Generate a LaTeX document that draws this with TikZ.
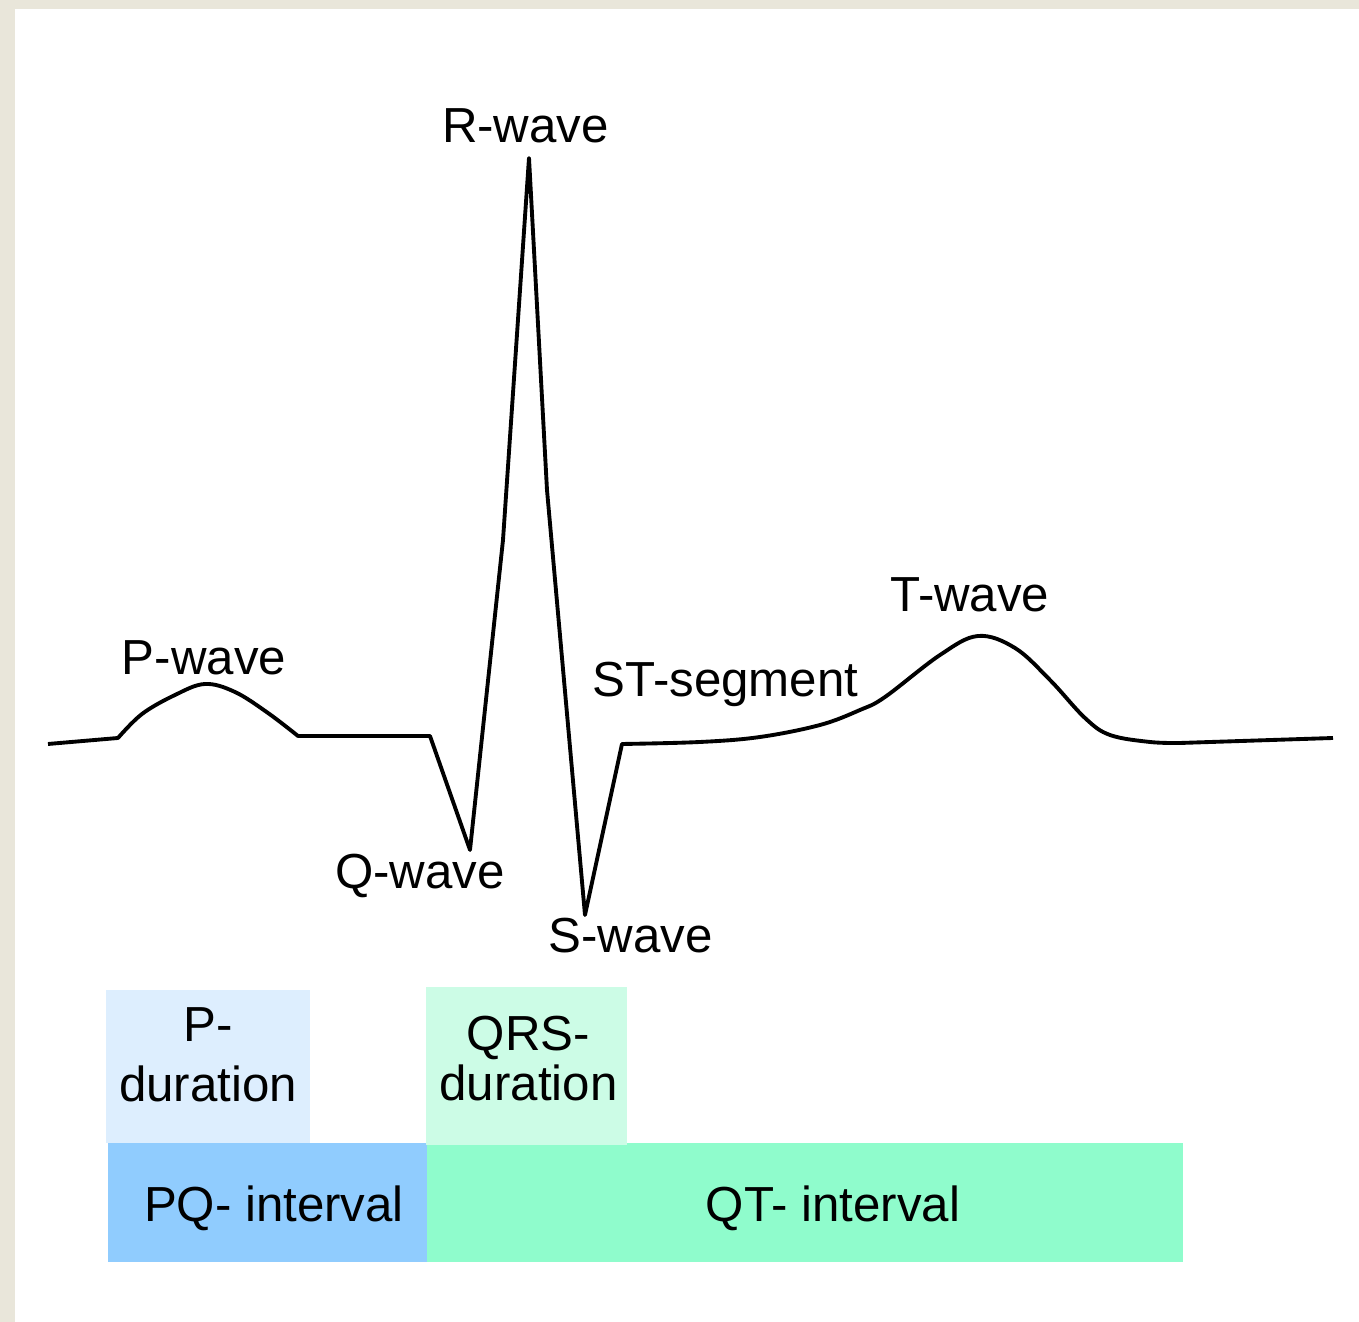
\documentclass[tikz,border=0pt]{standalone}
\usepackage{fontspec}
\setmainfont{Liberation Sans}
\usepackage{tikz}
\usetikzlibrary{positioning}
\usepackage{xcolor}
\definecolor{paper}{HTML}{E9E6DA}
\definecolor{pdurfill}{HTML}{DDEEFE}
\definecolor{pqfill}{HTML}{90CCFE}
\definecolor{qrsfill}{HTML}{CCFCE6}
\definecolor{qtfill}{HTML}{8FFCCC}

\begin{document}
\begin{tikzpicture}[
    x=0.01cm, y=-0.01cm,
    every node/.style={font=\fontsize{14}{17}\selectfont},
    wavelabel/.style={anchor=base},
    bandbox/.style={inner sep=0pt, align=center}
]
    \useasboundingbox (0,0) rectangle (1359,1322);

    % Page: beige frame on the left and top, white sheet
    \fill[paper] (0,0) rectangle (1359,1322);
    \fill[white] (15,9) rectangle (1359,1322);

    % Interval bars (bottom row)
    \node[bandbox, fill=pqfill, minimum width=3.19cm, minimum height=1.19cm] (pqbar) at (267.5,1202.5) {};
    \node[bandbox, fill=qtfill, minimum width=7.56cm, minimum height=1.19cm] (qtbar) at (805,1202.5) {};
    \node[wavelabel] (pqtext) at (274,1222) {PQ- interval};
    \node[wavelabel] (qttext) at (833,1222) {QT- interval};

    % Duration boxes (upper row)
    \node[bandbox, fill=pdurfill, minimum width=2.04cm, minimum height=1.53cm] (pdur) at (208,1066.5) {};
    \node[bandbox, fill=qrsfill, minimum width=2.01cm, minimum height=1.58cm] (qrsdur) at (526.5,1066) {};
    \node[bandbox] (pdurtext) at ([yshift=0.12cm]pdur.center) {P-\\duration};
    \node[bandbox] (qrsdurtext) at ([yshift=0.075cm,xshift=0.02cm]qrsdur.center) {QRS-\\[-0.09cm]duration};

    % ECG trace
    \draw[line width=1.1pt, line join=round]
        (48,744) -- (118,738)
        -- plot[smooth, tension=0.6] coordinates {(118,738) (142,714) (175,695) (205,684) (235,692) (268,713) (298,736)}
        -- (430,736) -- (470,850) -- (503,540) -- (529,158) -- (547,490) -- (585,915) -- (622,744)
        -- plot[smooth, tension=0.6] coordinates {(622,744) (700,742) (760,737) (820,725) (860,710) (885,697) (940,655) (978,636) (1015,648) (1050,680) (1085,718) (1110,735) (1150,742) (1180,743)}
        -- (1333,738);

    % Wave labels
    \node[wavelabel] (rlabel) at (525.5,143) {R-wave};
    \node[wavelabel] (plabel) at (204,675) {P-wave};
    \node[wavelabel] (qlabel) at (420,889) {Q-wave};
    \node[wavelabel] (slabel) at (630.5,953) {S-wave};
    \node[wavelabel] (stlabel) at (725.5,697) {ST-segment};
    \node[wavelabel] (tlabel) at (970,612) {T-wave};

\end{tikzpicture}
\end{document}
